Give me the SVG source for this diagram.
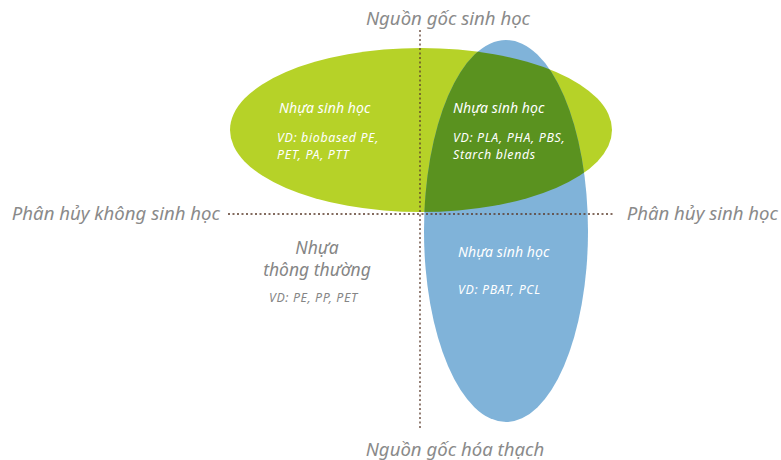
<svg xmlns="http://www.w3.org/2000/svg" width="781" height="460" viewBox="0 0 781 460">
<style>
text{font-family:"Noto Sans","Open Sans","Liberation Sans",sans-serif;font-style:italic}
.ax{fill:#8a8a8a;font-size:18.6px}
.t{fill:#ffffff;font-size:14px;letter-spacing:0.1px}
.s{fill:#ffffff;font-size:12.4px;letter-spacing:0.65px}
.g{fill:#858585;font-size:17.5px}
.gs{fill:#858585;font-size:12.4px;letter-spacing:0.6px}
.dl{stroke:#5b3b2b;stroke-width:1.3;stroke-dasharray:2 2.5;fill:none}
</style>
<defs>
<clipPath id="cg"><ellipse cx="421" cy="130" rx="191" ry="82"/></clipPath>
</defs>
<g id="green"><ellipse cx="421" cy="130" rx="191" ry="82" fill="#b6d228"/></g>
<g id="blue"><ellipse cx="506" cy="231" rx="82" ry="191" fill="#80b3d9"/></g>
<g id="overlap"><ellipse cx="506" cy="231" rx="82" ry="191" fill="#5a921f" clip-path="url(#cg)"/></g>
<g id="connectors">
<line class="dl" x1="420" y1="30" x2="420" y2="430"/>
<line class="dl" x1="228" y1="214" x2="615" y2="214"/>
</g>
<g id="labels">
<text class="ax" x="448" y="25" text-anchor="middle">Nguồn gốc sinh học</text>
<text class="ax" x="455" y="456" text-anchor="middle">Nguồn gốc hóa thạch</text>
<text class="ax" x="220" y="220" text-anchor="end">Phân hủy không sinh học</text>
<text class="ax" x="778" y="220" text-anchor="end">Phân hủy sinh học</text>
</g>
<g id="n1">
<text class="t" x="279" y="113">Nhựa sinh học</text>
<text class="s" x="277" y="142">VD: biobased PE,</text>
<text class="s" x="277" y="158.5">PET, PA, PTT</text>
</g>
<g id="n2">
<text class="t" x="453" y="113">Nhựa sinh học</text>
<text class="s" x="453" y="142">VD: PLA, PHA, PBS,</text>
<text class="s" x="453" y="158.5">Starch blends</text>
</g>
<g id="n3">
<text class="t" x="458" y="257">Nhựa sinh học</text>
<text class="s" x="458" y="294">VD: PBAT, PCL</text>
</g>
<g id="n4">
<text class="g" x="317" y="254" text-anchor="middle">Nhựa</text>
<text class="g" x="317" y="276" text-anchor="middle">thông thường</text>
<text class="gs" x="269" y="302">VD: PE, PP, PET</text>
</g>
</svg>
